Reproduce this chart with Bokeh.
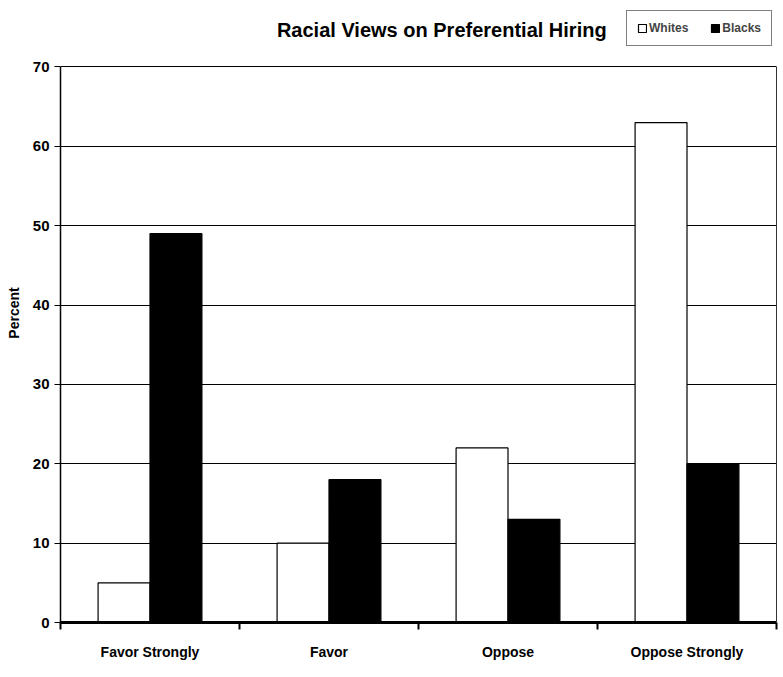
from bokeh.plotting import figure
from bokeh.models import (Range1d, FixedTicker, Label, Legend, LegendItem,
                          ColumnDataSource, LinearAxis)
from bokeh.transform import dodge
from bokeh.embed import file_html
from bokeh.resources import INLINE

categories = ["Favor Strongly", "Favor", "Oppose", "Oppose Strongly"]
whites = [5, 10, 22, 63]
blacks = [49, 18, 13, 20]
y_ticks = [0, 10, 20, 30, 40, 50, 60, 70]
title_text = "Racial Views on Preferential Hiring"

FONT = "Liberation Sans"
xpos = [i + 0.5 for i in range(len(categories))]
src = ColumnDataSource(dict(x=xpos, whites=whites, blacks=blacks))

# frame extends above 70 so the title and legend can sit inside it
p = figure(width=783, height=677, output_backend="svg", toolbar_location=None,
           x_range=Range1d(0, len(categories)), y_range=Range1d(0, 78),
           min_border_left=60, min_border_right=7, min_border_top=3,
           min_border_bottom=55)
p.background_fill_color = "white"
p.border_fill_color = "white"
p.outline_line_color = None

bw = 0.29
rw = p.vbar(x=dodge("x", -bw / 2, range=p.x_range), top="whites", width=bw,
            source=src, fill_color="white", line_color="black", line_width=1.2)
rb = p.vbar(x=dodge("x", bw / 2, range=p.x_range), top="blacks", width=bw,
            source=src, fill_color="black", line_color="black", line_width=1.2)

# grid
p.xgrid.visible = False
p.ygrid.grid_line_color = "black"
p.ygrid.grid_line_width = 1
p.ygrid.ticker = FixedTicker(ticks=y_ticks)

# y axis
p.yaxis.ticker = FixedTicker(ticks=y_ticks)
p.yaxis.bounds = (0, 70)
p.yaxis.axis_label = "Percent"
p.yaxis.axis_label_text_font = FONT
p.yaxis.axis_label_text_font_style = "bold"
p.yaxis.axis_label_text_font_size = "14px"
p.yaxis.axis_label_text_color = "black"
p.yaxis.axis_label_standoff = 8
p.yaxis.major_label_text_font = FONT
p.yaxis.major_label_text_font_style = "bold"
p.yaxis.major_label_text_font_size = "15px"
p.yaxis.major_label_text_color = "black"
p.yaxis.axis_line_color = "black"
p.yaxis.axis_line_width = 1.5
p.yaxis.major_tick_line_color = "black"
p.yaxis.major_tick_out = 6
p.yaxis.major_tick_in = 0
p.yaxis.minor_tick_line_color = None

# right border line of the plot area
rax = LinearAxis(bounds=(0, 70), ticker=FixedTicker(ticks=[]),
                 major_label_text_font_size="0px", major_tick_line_color=None,
                 minor_tick_line_color=None, axis_line_color="#333333",
                 axis_line_width=1)
p.add_layout(rax, "right")

# x axis: labels at centres, ticks at boundaries
p.xaxis.ticker = FixedTicker(ticks=xpos,
                             minor_ticks=list(range(len(categories) + 1)))
p.xaxis.major_label_overrides = {x: c for x, c in zip(xpos, categories)}
p.xaxis.major_tick_line_color = None
p.xaxis.minor_tick_line_color = "black"
p.xaxis.minor_tick_line_width = 2
p.xaxis.minor_tick_out = 7
p.xaxis.minor_tick_in = 0
p.xaxis.axis_line_color = "black"
p.xaxis.axis_line_width = 3
p.xaxis.major_label_text_font = FONT
p.xaxis.major_label_text_font_style = "bold"
p.xaxis.major_label_text_font_size = "14px"
p.xaxis.major_label_text_color = "black"
p.xaxis.major_label_standoff = 14

# title
p.add_layout(Label(x=2.13, y=74.6, text=title_text, text_font=FONT,
                   text_font_style="bold", text_font_size="20px",
                   text_align="center", text_baseline="middle",
                   text_color="black"))

legend = Legend(items=[LegendItem(label="Whites", renderers=[rw]),
                       LegendItem(label="Blacks", renderers=[rb])],
                orientation="horizontal", location=(566, 576),
                label_text_font=FONT, label_text_font_style="bold",
                label_text_font_size="12px", glyph_width=10, glyph_height=10,
                label_standoff=2, spacing=22, padding=10, margin=0,
                border_line_color="black", border_line_width=1,
                background_fill_color="white", background_fill_alpha=1)
p.add_layout(legend, "center")

open("out.html", "w").write(file_html(p, INLINE))
